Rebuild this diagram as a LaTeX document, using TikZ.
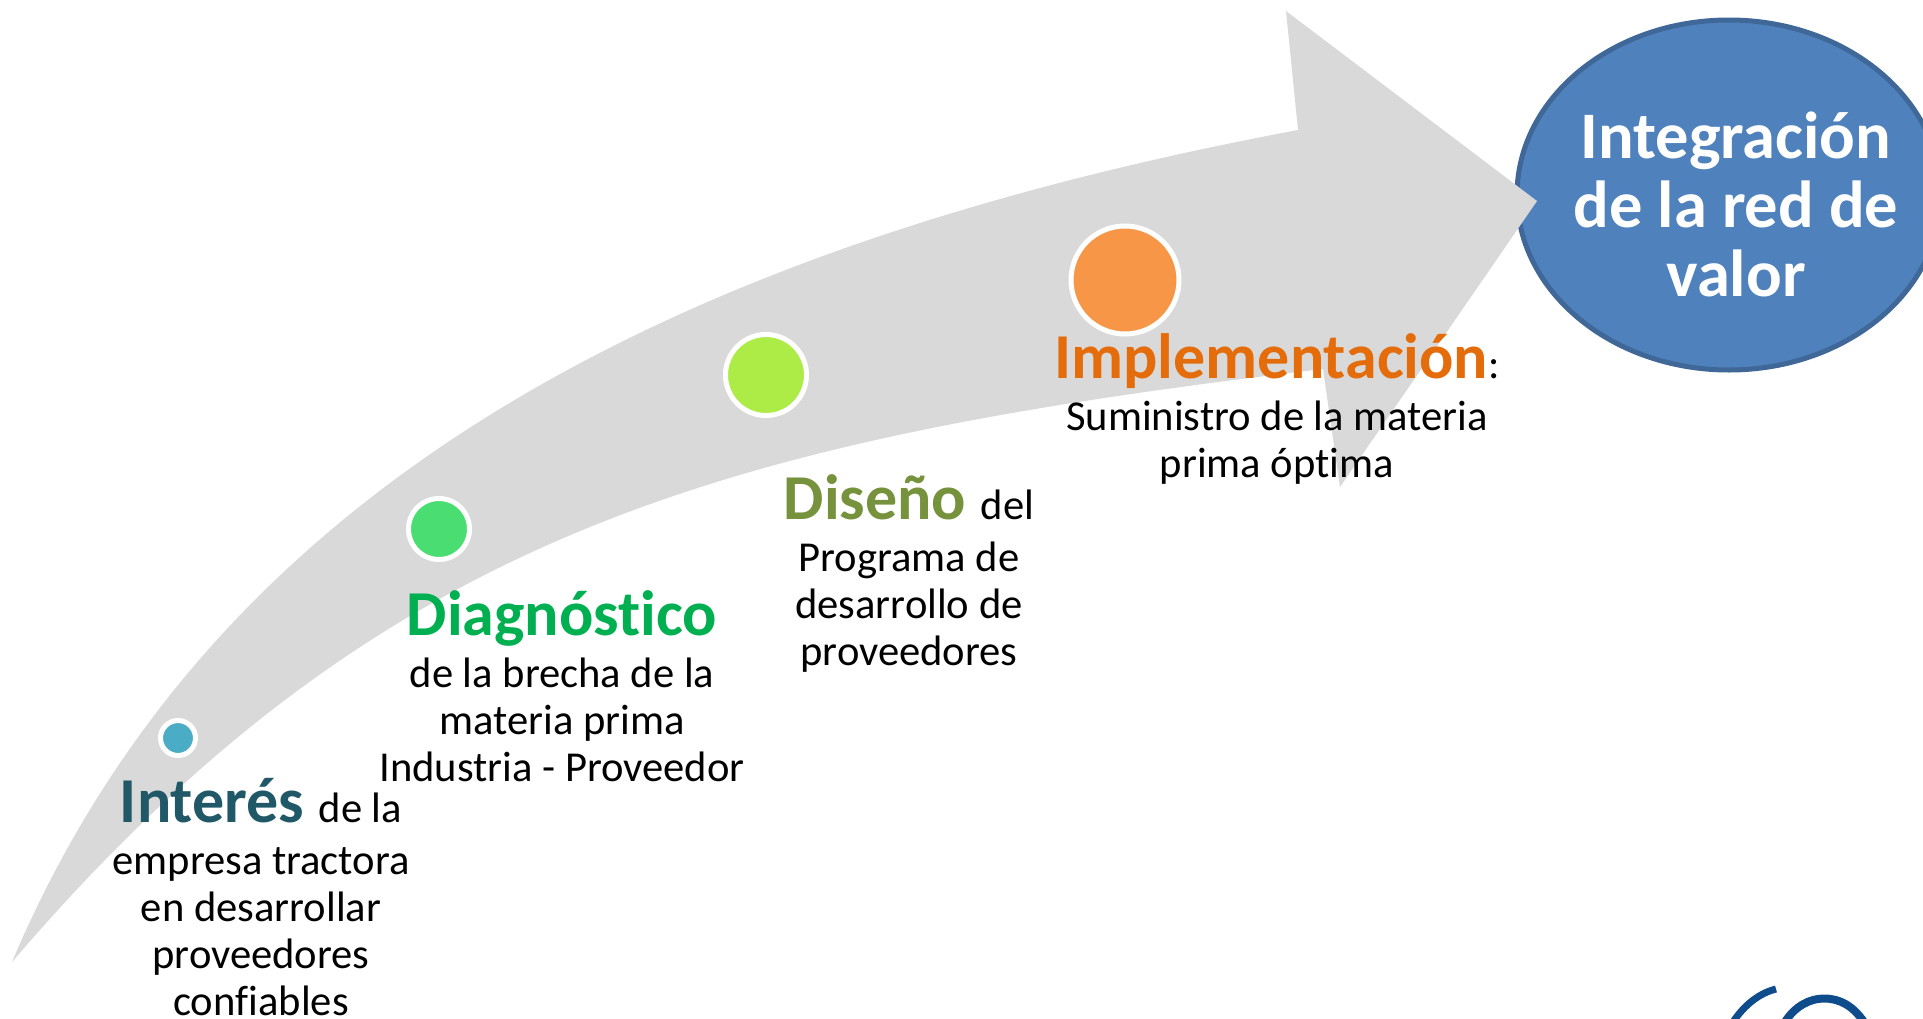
\documentclass[tikz,border=0pt]{standalone}
\usepackage{fontspec}
\setmainfont[Ligatures=NoCommon]{Carlito}
\usetikzlibrary{shapes.geometric}
\definecolor{arrowgray}{HTML}{D9D9D9}
\definecolor{ellfill}{HTML}{4F81BD}
\definecolor{elldraw}{HTML}{3F6797}
\definecolor{cblue}{HTML}{4BACC6}
\definecolor{cgreen}{HTML}{4ADE72}
\definecolor{clime}{HTML}{ADEB47}
\definecolor{corange}{HTML}{F79646}
\definecolor{tblue}{HTML}{215868}
\definecolor{tgreen}{HTML}{00B050}
\definecolor{tolive}{HTML}{76923C}
\definecolor{torange}{HTML}{E46C0A}
\definecolor{logoblue}{HTML}{0E4C8C}
\newcommand{\hd}{\fontsize{64}{47}\selectfont\bfseries}
\tikzset{
  dot/.style={circle,draw=white,line width=5pt,inner sep=0pt},
  body/.style={align=center,inner sep=0pt,anchor=north,text=black,font=\fontsize{42.6}{47}\selectfont},
}
\begin{document}
\begin{tikzpicture}[x=1pt,y=-1pt]
\useasboundingbox (0,0) rectangle (1923,1018);
\clip (0,0) rectangle (1923,1018);
% target ellipse
\node[ellipse,fill=ellfill,draw=elldraw,line width=5pt,minimum width=424pt,minimum height=350pt,inner sep=0pt] (target) at (1729,195) {};
\node[align=center,inner sep=0pt,text=white,font=\fontsize{66.5}{69}\selectfont\bfseries] (targettxt) at (1736,204) {Integración\\de la red de\\valor};
% big arrow
\fill[arrowgray] (12,962) .. controls (220,470) and (700,242) .. (1298,130)
  -- (1286,11) -- (1537,201) -- (1340,487) -- (1323,369)
  .. controls (723,440) and (380,532) .. (12,962) -- cycle;
% dots
\node[dot,fill=cblue,minimum size=35pt] (d1) at (178,738) {};
\node[dot,fill=cgreen,minimum size=61pt] (d2) at (439,529) {};
\node[dot,fill=clime,minimum size=81pt] (d3) at (766,375) {};
\node[dot,fill=corange,minimum size=108pt] (d4) at (1125,280) {};
% texts
\node[body] (t1) at (261,778) {{\hd\color{tblue}Interés }de la\\[5pt]empresa tractora\\en desarrollar\\proveedores\\confiables};
\node[body] (t2) at (562,590) {{\hd\color{tgreen}Diagnóstico}\\[5pt]de la brecha de la\\materia prima\\Industria - Proveedor};
\node[body] (t3) at (909,474) {{\hd\color{tolive}Diseño }del\\[5pt]Programa de\\desarrollo de\\proveedores};
\node[body] (t4) at (1277,333) {{\hd\color{torange}Implementación}:\\[5pt]Suministro de la materia\\prima óptima};
% logo fragment
\draw[logoblue,line width=7pt] (1776,989) .. controls (1760,993) and (1745,1004) .. (1733,1022);
\draw[logoblue,line width=8pt] (1785,1022) .. controls (1795,1006) and (1810,998.5) .. (1824,998.5) .. controls (1840,998.5) and (1853,1006) .. (1864,1022);
\end{tikzpicture}
\end{document}
